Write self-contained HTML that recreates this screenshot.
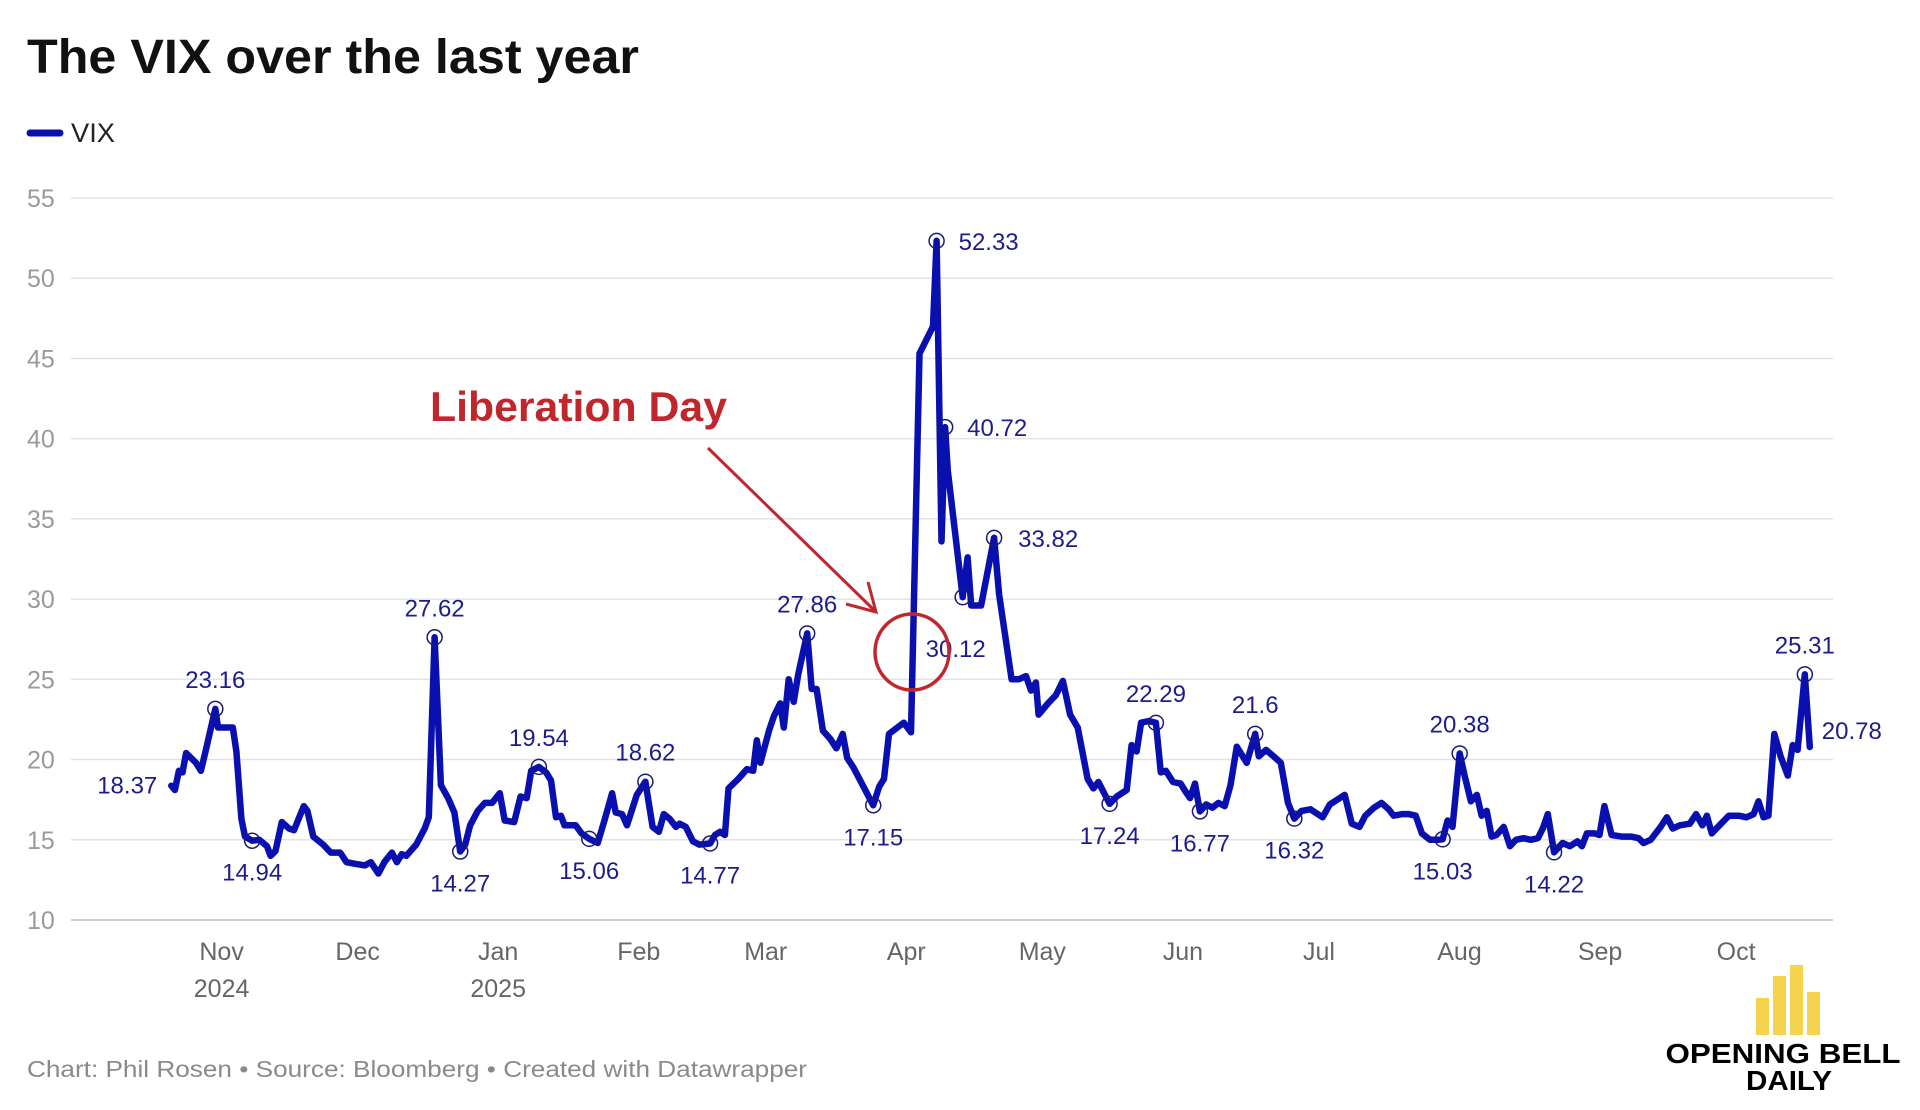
<!DOCTYPE html>
<html><head><meta charset="utf-8"><title>The VIX over the last year</title>
<style>
html,body{margin:0;padding:0;background:#fff;}
svg{display:block;font-family:"Liberation Sans",sans-serif;}
</style></head>
<body>
<svg id="chart" width="1920" height="1110" viewBox="0 0 1920 1110" xmlns="http://www.w3.org/2000/svg">
<text x="27" y="73" font-size="48" font-weight="bold" fill="#111" textLength="612" lengthAdjust="spacingAndGlyphs">The VIX over the last year</text>
<g>
<line x1="30" y1="133" x2="60" y2="133" stroke="#0a10b0" stroke-width="7" stroke-linecap="round"/>
<text x="71" y="142" font-size="27" fill="#222" textLength="44" lengthAdjust="spacingAndGlyphs">VIX</text>
</g>
<g id="grid"></g>
<g id="xaxis"></g>
<g id="series"></g>
<g id="annots"></g>
<g>
<text x="430" y="421" font-size="42" font-weight="bold" fill="#c0272d" textLength="297" lengthAdjust="spacingAndGlyphs">Liberation Day</text>
<line x1="708" y1="448" x2="874" y2="610" stroke="#c0272d" stroke-width="3"/>
<polyline points="846,604 876,612 868,582" fill="none" stroke="#c0272d" stroke-width="3"/>
<ellipse cx="912" cy="652" rx="37" ry="38" fill="none" stroke="#c0272d" stroke-width="3.5"/>
</g>
<text x="27" y="1077" font-size="23" fill="#8a8a8a" textLength="780" lengthAdjust="spacingAndGlyphs">Chart: Phil Rosen • Source: Bloomberg • Created with Datawrapper</text>
<g>
<rect x="1756" y="998" width="13" height="37" fill="#f3d44c"/>
<rect x="1773" y="976" width="13" height="59" fill="#f3d44c"/>
<rect x="1790" y="965" width="13" height="70" fill="#f3d44c"/>
<rect x="1807" y="992" width="13" height="43" fill="#f3d44c"/>
<text x="1783" y="1063" font-size="28" font-weight="bold" fill="#000" text-anchor="middle" textLength="235" lengthAdjust="spacingAndGlyphs">OPENING BELL</text>
<text x="1789" y="1090" font-size="28" font-weight="bold" fill="#000" text-anchor="middle" textLength="86" lengthAdjust="spacingAndGlyphs">DAILY</text>
</g>
</svg>
<script>
const days = [-11.2,-10.4,-9.5,-8.7,-7.9,-5.7,-4.6,-3.5,-1.4,-0.8,0.8,2.5,3.3,4.4,5.2,6.8,8.4,10.1,10.9,12.0,13.4,15.0,16.1,18.3,19.1,20.4,22.6,24.3,26.4,27.8,29.7,31.9,33.2,34.9,36.2,37.9,39.0,40.1,41.1,43.3,45.2,46.1,47.4,48.8,50.4,51.8,53.1,54.2,55.3,57.0,58.6,60.2,61.9,63.0,65.1,66.5,67.9,68.9,70.6,72.2,73.3,74.4,75.5,76.3,78.8,80.1,81.8,83.7,85.3,86.9,87.7,89.1,90.2,92.4,94.3,95.9,97.3,98.4,99.7,101.1,101.9,103.3,104.9,106.3,108.7,109.8,110.9,112.0,112.8,115.0,116.9,118.3,119.1,119.9,121.8,122.9,124.3,125.1,126.2,127.3,128.3,130.3,131.3,132.4,133.8,135.4,136.8,138.2,139.2,140.6,145.0,146.3,147.4,148.5,149.9,151.8,153.4,155.3,158.3,159.1,160.2,161.0,161.6,164.9,166.0,166.8,169.0,171.9,173.0,175.8,177.4,179.0,180.1,181.2,181.8,183.9,185.6,187.2,188.8,190.5,192.7,194.0,195.1,197.6,199.2,201.4,202.5,203.6,204.6,206.3,207.9,209.0,210.1,211.7,213.4,214.5,215.5,216.6,217.7,219.1,220.5,221.8,223.2,224.5,225.9,228.1,230.0,230.8,232.4,234.1,235.7,237.3,238.7,240.3,242.3,243.9,245.0,246.6,249.9,251.5,253.2,254.5,256.4,258.1,259.7,260.8,262.7,264.1,265.7,267.1,268.9,270.6,271.7,272.8,273.9,275.5,276.6,278.0,279.3,280.4,281.5,282.6,283.7,285.3,286.7,288.0,289.7,291.3,292.9,294.0,295.1,296.5,298.4,300.0,301.7,302.7,303.8,305.5,306.6,307.7,309.3,311.5,313.6,315.3,316.4,318.0,320.2,321.6,322.9,324.5,326.7,328.1,329.5,330.5,331.6,333.3,335.4,337.6,339.3,340.9,342.0,343.1,344.2,345.5,346.9,348.5,349.6,350.7,352.3,353.4];
const vix = [18.37,18.1,19.3,19.2,20.4,19.8,19.3,20.6,23.16,22.0,22.0,22.0,20.5,16.3,15.2,14.94,15.0,14.6,14.0,14.3,16.1,15.7,15.6,17.1,16.8,15.2,14.7,14.2,14.2,13.6,13.5,13.4,13.6,12.9,13.6,14.2,13.6,14.1,14.0,14.7,15.7,16.4,27.62,18.4,17.6,16.7,14.27,14.7,15.9,16.8,17.3,17.3,17.9,16.2,16.1,17.7,17.6,19.3,19.54,19.2,18.7,16.4,16.5,15.9,15.9,15.4,15.06,14.8,16.3,17.9,16.7,16.6,15.9,17.8,18.62,15.8,15.5,16.6,16.3,15.8,16.0,15.8,14.9,14.7,14.77,15.3,15.5,15.3,18.2,18.8,19.4,19.3,21.2,19.8,21.8,22.7,23.5,22.0,25.0,23.6,25.3,27.86,24.4,24.4,21.8,21.3,20.7,21.6,20.1,19.5,17.15,18.3,18.8,21.6,21.9,22.3,21.7,45.3,47.0,52.33,33.6,40.72,38.0,30.12,32.6,29.6,29.6,33.82,30.3,25.0,25.0,25.2,24.3,24.8,22.8,23.5,24.0,24.9,22.8,22.0,18.8,18.2,18.6,17.24,17.7,18.1,20.9,20.5,22.3,22.4,22.29,19.2,19.3,18.6,18.5,18.0,17.6,18.5,16.77,17.2,17.0,17.3,17.1,18.4,20.8,19.8,21.6,20.2,20.6,20.2,19.8,17.3,16.32,16.8,16.9,16.6,16.4,17.2,17.8,16.0,15.8,16.5,17.0,17.3,16.9,16.5,16.6,16.6,16.5,15.4,15.0,15.0,15.03,16.2,15.8,20.38,19.0,17.4,17.8,16.5,16.8,15.2,15.3,15.8,14.6,15.0,15.1,15.0,15.1,15.7,16.6,14.22,14.8,14.6,14.9,14.6,15.4,15.4,15.3,17.1,15.3,15.2,15.2,15.1,14.8,15.0,15.8,16.4,15.7,15.9,16.0,16.6,15.9,16.5,15.4,15.9,16.5,16.5,16.4,16.6,17.4,16.4,16.5,21.6,20.2,19.0,20.9,20.6,25.31,20.78];
const yTicks = [10,15,20,25,30,35,40,45,50,55];
const monthLabels = ["Nov","Dec","Jan","Feb","Mar","Apr","May","Jun","Jul","Aug","Sep","Oct"];
const monthDays = [0,30,61,92,120,151,181,212,242,273,304,334];
const yearLabels = ["2024","","2025","","","","","","","","",""];
const annDays = [-11.2,-1.4,6.8,47.4,53.1,70.6,81.8,94.3,108.7,130.3,145.0,159.1,161.0,164.9,171.9,197.6,207.9,217.7,230.0,238.7,271.7,275.5,296.5,352.3,353.4];
const annValues = [18.37,23.16,14.94,27.62,14.27,19.54,15.06,18.62,14.77,27.86,17.15,52.33,40.72,30.12,33.82,17.24,22.29,16.77,21.6,16.32,15.03,20.38,14.22,25.31,20.78];
const annCircle = [false,true,true,true,true,true,true,true,true,true,true,true,true,true,true,true,true,true,true,true,true,true,true,true,false];
const annAnchor = ["end","middle","middle","middle","middle","middle","middle","middle","middle","middle","middle","start","start","start","start","middle","middle","middle","middle","middle","middle","middle","middle","middle","start"];
const annDx = [-14,0,0,0,0,0,0,0,0,0,0,22,22,-37,24,0,0,0,0,0,0,0,0,0,12];
const annDy = [8,-21,40,-21,40,-21,40,-21,40,-21,40,9,9,60,9,40,-21,40,-21,40,40,-21,40,-21,-8];

const NS = "http://www.w3.org/2000/svg";
const X0 = 221.6, XS = 4.494, Y0 = 920, YS = 722/45;
function xScale(d){ return X0 + d*XS; }
function yScale(v){ return Y0 - (v-10)*YS; }
function mk(tag, attrs, parent){ const e=document.createElementNS(NS,tag); for(const k in attrs) e.setAttribute(k, attrs[k]); parent.appendChild(e); return e; }

const grid = document.getElementById('grid');
yTicks.forEach(t=>{
  const y = yScale(t);
  const ln = mk('line',{x1:71,x2:1833,y1:y,y2:y,stroke:t===10?'#cfcfcf':'#e3e3e3','stroke-width':t===10?2:1.5},grid);
  
  
  const tx = mk('text',{x:27,y:y+9,'font-size':25,fill:'#9a9a9a'},grid);
  tx.textContent = t;
  
  
});

const xa = document.getElementById('xaxis');
monthLabels.forEach((m,i)=>{
  const x = X0 + monthDays[i]*XS*1.009;
  const t = mk('text',{x:x,y:960,'font-size':25,fill:'#666','text-anchor':'middle'},xa);
  t.textContent = m;
  
  
  if(yearLabels[i]){
    const y2 = mk('text',{x:x,y:997,'font-size':25,fill:'#666','text-anchor':'middle'},xa);
    y2.textContent = yearLabels[i];
    
    
  }
});

const series = document.getElementById('series');
const pts = days.map((d,i)=> xScale(d).toFixed(1)+','+yScale(vix[i]).toFixed(1)).join(' ');
const pl = mk('polyline',{points:pts,fill:'none',stroke:'#0a10b0','stroke-width':6.5,'stroke-linejoin':'round','stroke-linecap':'round'},series);



const ann = document.getElementById('annots');
annDays.forEach((d,i)=>{
  const x = xScale(d), y = yScale(annValues[i]);
  if(annCircle[i]){
    const c = mk('circle',{cx:x,cy:y,r:7.5,fill:'none',stroke:'#1a1a7a','stroke-width':1.5},ann);
    
    
  }
  const t = mk('text',{x:x+annDx[i],y:y+annDy[i],'font-size':24,fill:'#1c1c8c','text-anchor':annAnchor[i]},ann);
  t.textContent = String(annValues[i]);
  
  
});
</script>
</body></html>
